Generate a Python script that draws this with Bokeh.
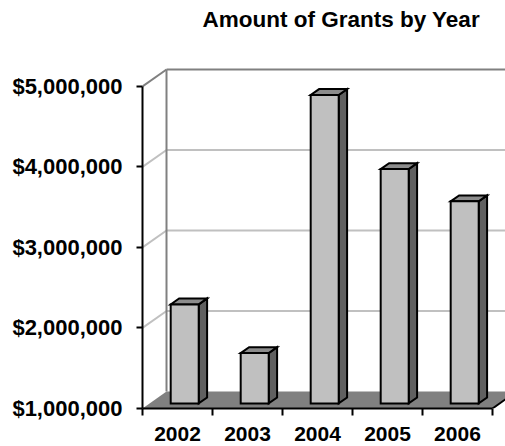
from bokeh.plotting import figure
from bokeh.models import FixedTicker, NumeralTickFormatter, Title
from bokeh.embed import file_html
from bokeh.resources import INLINE

# ---- data ----
years = ["2002", "2003", "2004", "2005", "2006"]
grants = [2230000, 1625000, 4830000, 3910000, 3510000]
y_ticks = [1000000, 2000000, 3000000, 4000000, 5000000]
chart_title = "Amount of Grants by Year"

# ---- 3D geometry (in data units) ----
BASE = y_ticks[0]
TOP = y_ticks[-1]
N = len(years)
DX = 0.343      # full-depth shift, category units
DY = 211000     # full-depth shift, dollars
BW = 0.4        # bar width, category units
F0, F1 = 0.30, 0.65  # bar front / back depth fractions
X_END = 5.186
Y_END = 5248000


def proj(x, v, f):
    return x + f * DX, v + f * DY


p = figure(width=505, height=446, x_range=(0, X_END), y_range=(BASE, Y_END),
           output_backend="svg", toolbar_location=None,
           min_border_left=142, min_border_right=0,
           min_border_top=66, min_border_bottom=38)
p.xgrid.visible = False
p.ygrid.visible = False
p.outline_line_color = None
p.background_fill_color = "white"

LIGHT = "#c0c0c0"
DARK = "#808080"

# back wall gridlines + left wall diagonals
for v in y_ticks[1:]:
    col = DARK if v == TOP else LIGHT
    bx, by = proj(0, v, 1)
    p.segment(x0=[bx], y0=[by], x1=[X_END + 1], y1=[by], line_color=col, line_width=2)
    p.segment(x0=[0], y0=[v], x1=[bx], y1=[by], line_color=col, line_width=2)
# back wall left edge
bx0, by0 = proj(0, BASE, 1)
bx1, by1 = proj(0, TOP, 1)
p.segment(x0=[bx0], y0=[by0], x1=[bx1], y1=[by1], line_color=DARK, line_width=2)

# floor
fl = [proj(0, BASE, 0), proj(N, BASE, 0), proj(N, BASE, 1), proj(0, BASE, 1)]
p.patch([q[0] for q in fl], [q[1] for q in fl], fill_color="#808080", line_color=None)
p.segment(x0=[fl[1][0]], y0=[fl[1][1]], x1=[fl[2][0]], y1=[fl[2][1]],
          line_color="black", line_width=2)

# bars
front_xs, front_ys, top_xs, top_ys, side_xs, side_ys = [], [], [], [], [], []
for i, v in enumerate(grants):
    l = i + 0.5 - BW / 2
    r = i + 0.5 + BW / 2
    pts = [proj(l, BASE, F0), proj(r, BASE, F0), proj(r, v, F0), proj(l, v, F0)]
    front_xs.append([q[0] for q in pts]); front_ys.append([q[1] for q in pts])
    pts = [proj(l, v, F0), proj(r, v, F0), proj(r, v, F1), proj(l, v, F1)]
    top_xs.append([q[0] for q in pts]); top_ys.append([q[1] for q in pts])
    pts = [proj(r, BASE, F0), proj(r, v, F0), proj(r, v, F1), proj(r, BASE, F1)]
    side_xs.append([q[0] for q in pts]); side_ys.append([q[1] for q in pts])

kw = dict(line_color="black", line_width=2, line_join="miter")
p.patches(side_xs, side_ys, fill_color="#606060", **kw)
p.patches(top_xs, top_ys, fill_color="#8c8c8c", **kw)
p.patches(front_xs, front_ys, fill_color="#c0c0c0", **kw)

FONT = "Liberation Sans"

# y axis
ya = p.yaxis[0]
ya.ticker = FixedTicker(ticks=y_ticks)
ya.formatter = NumeralTickFormatter(format="$0,0")
ya.bounds = (BASE, TOP)
ya.axis_line_width = 2
ya.axis_line_color = "black"
ya.major_tick_out = 6
ya.major_tick_in = 0
ya.major_tick_line_width = 2
ya.minor_tick_out = 0
ya.minor_tick_in = 0
ya.major_label_standoff = 14
ya.major_label_text_font = FONT
ya.major_label_text_font_style = "bold"
ya.major_label_text_font_size = "22px"
ya.major_label_text_color = "black"

# x axis
centers = [i + 0.5 for i in range(N)]
xa = p.xaxis[0]
xa.ticker = FixedTicker(ticks=centers, minor_ticks=list(range(N + 1)))
xa.major_label_overrides = {c: y for c, y in zip(centers, years)}
xa.bounds = (0, N)
xa.axis_line_width = 2
xa.axis_line_color = "black"
xa.major_tick_out = 0
xa.major_tick_in = 0
xa.minor_tick_out = 7
xa.minor_tick_in = 0
xa.minor_tick_line_width = 2
xa.minor_tick_line_color = "black"
xa.major_label_standoff = 11
xa.major_label_text_font = FONT
xa.major_label_text_font_style = "bold"
xa.major_label_text_font_size = "21px"
xa.major_label_text_color = "black"

# spacer between title and frame
spacer = Title(text=" ", text_font_size="1px", standoff=32)
p.add_layout(spacer, "above")

# title
p.title.text = chart_title
p.title.text_font = FONT
p.title.text_font_style = "bold"
p.title.text_font_size = "22.5px"
p.title.text_color = "black"
p.title.align = "left"
p.title.offset = 60
p.title.standoff = 0

open("out.html", "w").write(file_html(p, INLINE))
